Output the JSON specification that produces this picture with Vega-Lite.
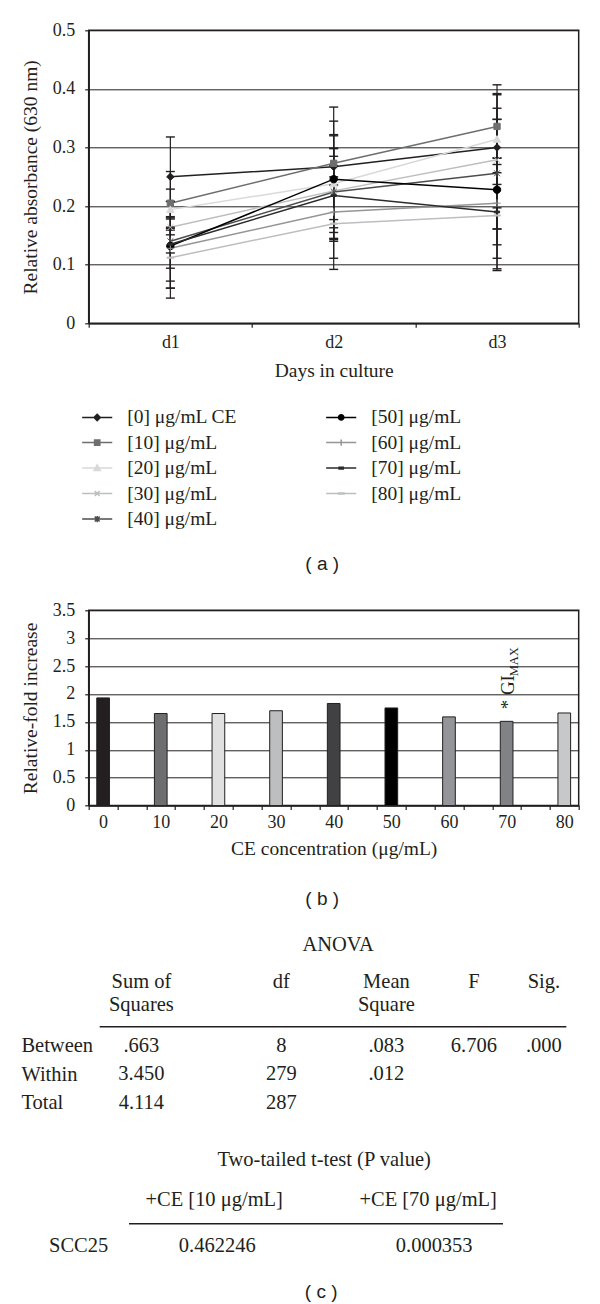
{
  "$schema": "https://vega.github.io/schema/vega-lite/v6.json",
  "background": "white",
  "padding": {"left": 18.7, "top": 20.3, "right": 0, "bottom": 0},
  "spacing": 0,
  "bounds": "flush",
  "resolve": {"scale": {"color": "independent", "x": "independent", "y": "independent", "shape": "independent", "fill": "independent", "stroke": "independent"}},
  "config": {
    "font": "Liberation Serif",
    "view": {"stroke": null},
    "axis": {"labelFont": "Liberation Serif", "titleFont": "Liberation Serif", "labelColor": "#231f20", "titleColor": "#231f20", "titleFontWeight": "normal", "domainColor": "#231f20", "tickColor": "#231f20", "gridColor": "#231f20"},
    "text": {"color": "#231f20"}
  },
  "vconcat": [
    {
      "width": 490,
      "height": 293,
      "view": {"stroke": "#231f20", "strokeWidth": 1.5},
      "data": {"values": [
        {"day": "d1", "series": "[0] μg/mL CE", "value": 0.250, "lo": 0.182, "hi": 0.318},
        {"day": "d2", "series": "[0] μg/mL CE", "value": 0.267, "lo": 0.236, "hi": 0.298},
        {"day": "d3", "series": "[0] μg/mL CE", "value": 0.300, "lo": 0.197, "hi": 0.407},
        {"day": "d1", "series": "[10] μg/mL", "value": 0.205, "lo": 0.151, "hi": 0.259},
        {"day": "d2", "series": "[10] μg/mL", "value": 0.273, "lo": 0.177, "hi": 0.369},
        {"day": "d3", "series": "[10] μg/mL", "value": 0.336, "lo": 0.282, "hi": 0.392},
        {"day": "d1", "series": "[20] μg/mL", "value": 0.194, "lo": 0.159, "hi": 0.229},
        {"day": "d2", "series": "[20] μg/mL", "value": 0.238, "lo": 0.155, "hi": 0.322},
        {"day": "d3", "series": "[20] μg/mL", "value": 0.314, "lo": 0.237, "hi": 0.390},
        {"day": "d1", "series": "[30] μg/mL", "value": 0.164, "lo": 0.120, "hi": 0.208},
        {"day": "d2", "series": "[30] μg/mL", "value": 0.226, "lo": 0.143, "hi": 0.320},
        {"day": "d3", "series": "[30] μg/mL", "value": 0.279, "lo": 0.161, "hi": 0.367},
        {"day": "d1", "series": "[40] μg/mL", "value": 0.140, "lo": 0.072, "hi": 0.208},
        {"day": "d2", "series": "[40] μg/mL", "value": 0.224, "lo": 0.163, "hi": 0.285},
        {"day": "d3", "series": "[40] μg/mL", "value": 0.256, "lo": 0.161, "hi": 0.348},
        {"day": "d1", "series": "[50] μg/mL", "value": 0.132, "lo": 0.043, "hi": 0.180},
        {"day": "d2", "series": "[50] μg/mL", "value": 0.246, "lo": 0.145, "hi": 0.345},
        {"day": "d3", "series": "[50] μg/mL", "value": 0.228, "lo": 0.090, "hi": 0.348},
        {"day": "d1", "series": "[60] μg/mL", "value": 0.128, "lo": 0.094, "hi": 0.162},
        {"day": "d2", "series": "[60] μg/mL", "value": 0.190, "lo": 0.111, "hi": 0.269},
        {"day": "d3", "series": "[60] μg/mL", "value": 0.205, "lo": 0.134, "hi": 0.271},
        {"day": "d1", "series": "[70] μg/mL", "value": 0.135, "lo": 0.060, "hi": 0.178},
        {"day": "d2", "series": "[70] μg/mL", "value": 0.218, "lo": 0.140, "hi": 0.299},
        {"day": "d3", "series": "[70] μg/mL", "value": 0.190, "lo": 0.093, "hi": 0.282},
        {"day": "d1", "series": "[80] μg/mL", "value": 0.112, "lo": 0.060, "hi": 0.164},
        {"day": "d2", "series": "[80] μg/mL", "value": 0.170, "lo": 0.092, "hi": 0.250},
        {"day": "d3", "series": "[80] μg/mL", "value": 0.184, "lo": 0.111, "hi": 0.257}
      ]},
      "resolve": {"scale": {"shape": "independent", "fill": "independent", "stroke": "independent"}},
      "encoding": {
        "x": {"field": "day", "type": "nominal",
          "scale": {"type": "band", "domain": ["d1", "d2", "d3"], "paddingInner": 0, "paddingOuter": 0},
          "axis": {"title": "Days in culture", "labelAngle": 0, "tickBand": "extent", "tickSize": 4, "tickWidth": 1.2, "domainWidth": 1.5, "labelFontSize": 18, "labelPadding": 6, "titleFontSize": 19.5, "titlePadding": 10}},
        "y": {"field": "value", "type": "quantitative",
          "scale": {"domain": [0, 0.5], "nice": false},
          "axis": {"title": "Relative absorbance (630 nm)", "values": [0, 0.1, 0.2, 0.3, 0.4, 0.5], "labelExpr": "datum.value === 0 ? '0' : format(datum.value, '.1f')", "grid": true, "gridWidth": 1, "tickSize": 4, "tickWidth": 1.2, "domainWidth": 1.5, "labelFontSize": 18, "labelPadding": 10, "titleFontSize": 19.5, "titlePadding": 12}}
      },
      "layer": [
        {
          "mark": {"type": "line", "strokeWidth": 1.5},
          "encoding": {
            "color": {"field": "series", "type": "nominal", "legend": null,
              "scale": {"domain": ["[0] μg/mL CE", "[10] μg/mL", "[20] μg/mL", "[30] μg/mL", "[40] μg/mL", "[50] μg/mL", "[60] μg/mL", "[70] μg/mL", "[80] μg/mL"],
                        "range": ["#231f20", "#6d6e70", "#d9d9d9", "#bcbec0", "#4d4d4f", "#000000", "#939598", "#2b2b2b", "#bcbec0"]}}
          }
        },
        {
          "mark": {"type": "rule", "color": "#231f20", "strokeWidth": 1.2},
          "encoding": {"y": {"field": "lo", "type": "quantitative"}, "y2": {"field": "hi"}}
        },
        {
          "mark": {"type": "tick", "color": "#231f20", "thickness": 1.4, "size": 9, "opacity": 1},
          "encoding": {"y": {"field": "lo", "type": "quantitative"}}
        },
        {
          "mark": {"type": "tick", "color": "#231f20", "thickness": 1.4, "size": 9, "opacity": 1},
          "encoding": {"y": {"field": "hi", "type": "quantitative"}}
        },
        {
          "mark": {"type": "point", "filled": true, "size": 55, "strokeWidth": 1, "opacity": 1},
          "encoding": {
            "shape": {"field": "series", "type": "nominal", "legend": null,
              "scale": {"domain": ["[0] μg/mL CE", "[10] μg/mL", "[20] μg/mL", "[30] μg/mL", "[40] μg/mL", "[50] μg/mL", "[60] μg/mL", "[70] μg/mL", "[80] μg/mL"],
                        "range": ["M0,-1L1,0L0,1L-1,0Z", "M-0.85,-0.85L0.85,-0.85L0.85,0.85L-0.85,0.85Z", "M0,-1L1,0.8L-1,0.8Z", "M-0.8,-0.8L0.8,0.8M-0.8,0.8L0.8,-0.8", "M-0.8,-0.8L0.8,0.8M-0.8,0.8L0.8,-0.8M0,-1L0,1", "M1,0A1,1,0,1,1,-1,0A1,1,0,1,1,1,0Z", "M-1,0L1,0M0,-1L0,1", "M-0.7,-0.25L0.7,-0.25L0.7,0.25L-0.7,0.25Z", "M-0.9,-0.15L0.9,-0.15L0.9,0.15L-0.9,0.15Z"]}},
            "fill": {"field": "series", "type": "nominal", "legend": null,
              "scale": {"domain": ["[0] μg/mL CE", "[10] μg/mL", "[20] μg/mL", "[30] μg/mL", "[40] μg/mL", "[50] μg/mL", "[60] μg/mL", "[70] μg/mL", "[80] μg/mL"],
                        "range": ["#231f20", "#6d6e70", "#d9d9d9", "#bcbec0", "#4d4d4f", "#000000", "#939598", "#2b2b2b", "#bcbec0"]}},
            "stroke": {"field": "series", "type": "nominal", "legend": null,
              "scale": {"domain": ["[0] μg/mL CE", "[10] μg/mL", "[20] μg/mL", "[30] μg/mL", "[40] μg/mL", "[50] μg/mL", "[60] μg/mL", "[70] μg/mL", "[80] μg/mL"],
                        "range": ["#231f20", "#6d6e70", "#d9d9d9", "#bcbec0", "#4d4d4f", "#000000", "#939598", "#2b2b2b", "#bcbec0"]}}
          }
        },
        {
          "mark": {"type": "point", "filled": true, "size": 55, "strokeWidth": 1.5, "opacity": 0},
          "encoding": {
            "shape": {"field": "series", "type": "nominal",
              "scale": {"domain": ["[0] μg/mL CE", "[10] μg/mL", "[20] μg/mL", "[30] μg/mL", "[40] μg/mL", "[50] μg/mL", "[60] μg/mL", "[70] μg/mL", "[80] μg/mL"],
                        "range": ["M-4.3,0L4.3,0M0,-0.9L0.9,0L0,0.9L-0.9,0Z", "M-4.3,0L4.3,0M-0.75,-0.75L0.75,-0.75L0.75,0.75L-0.75,0.75Z", "M-4.3,0L4.3,0M0,-0.9L0.9,0.7L-0.9,0.7Z", "M-4.3,0L4.3,0M-0.7,-0.7L0.7,0.7M-0.7,0.7L0.7,-0.7", "M-4.3,0L4.3,0M-0.7,-0.7L0.7,0.7M-0.7,0.7L0.7,-0.7M0,-0.9L0,0.9", "M-4.3,0L-0.75,0M0.75,0L4.3,0M0.75,0A0.75,0.75,0,1,1,-0.75,0A0.75,0.75,0,1,1,0.75,0Z", "M-4.3,0L4.3,0M0,-0.9L0,0.9", "M-4.3,0L4.3,0M-0.6,-0.25L0.6,-0.25L0.6,0.25L-0.6,0.25Z", "M-4.3,0L4.3,0M-0.8,-0.15L0.8,-0.15L0.8,0.15L-0.8,0.15Z"]},
              "legend": {"title": null, "orient": "none", "legendX": -1.25, "legendY": 377, "columns": 2, "columnPadding": 85, "rowPadding": 4.5, "padding": 0, "symbolSize": 49, "symbolStrokeWidth": 1.5, "symbolOpacity": 1, "labelOffset": 20.25, "labelFont": "Liberation Serif", "labelFontSize": 19.5, "labelColor": "#231f20", "labelLimit": 300}},
            "fill": {"field": "series", "type": "nominal",
              "scale": {"domain": ["[0] μg/mL CE", "[10] μg/mL", "[20] μg/mL", "[30] μg/mL", "[40] μg/mL", "[50] μg/mL", "[60] μg/mL", "[70] μg/mL", "[80] μg/mL"],
                        "range": ["#231f20", "#6d6e70", "#d9d9d9", "#bcbec0", "#4d4d4f", "#000000", "#939598", "#2b2b2b", "#bcbec0"]},
              "legend": {"title": null, "orient": "none", "legendX": -1.25, "legendY": 377, "columns": 2, "columnPadding": 85, "rowPadding": 4.5, "padding": 0, "symbolSize": 49, "symbolStrokeWidth": 1.5, "symbolOpacity": 1, "labelOffset": 20.25, "labelFont": "Liberation Serif", "labelFontSize": 19.5, "labelColor": "#231f20", "labelLimit": 300}},
            "stroke": {"field": "series", "type": "nominal",
              "scale": {"domain": ["[0] μg/mL CE", "[10] μg/mL", "[20] μg/mL", "[30] μg/mL", "[40] μg/mL", "[50] μg/mL", "[60] μg/mL", "[70] μg/mL", "[80] μg/mL"],
                        "range": ["#231f20", "#6d6e70", "#d9d9d9", "#bcbec0", "#4d4d4f", "#000000", "#939598", "#2b2b2b", "#bcbec0"]},
              "legend": {"title": null, "orient": "none", "legendX": -1.25, "legendY": 377, "columns": 2, "columnPadding": 85, "rowPadding": 4.5, "padding": 0, "symbolSize": 49, "symbolStrokeWidth": 1.5, "symbolOpacity": 1, "labelOffset": 20.25, "labelFont": "Liberation Serif", "labelFontSize": 19.5, "labelColor": "#231f20", "labelLimit": 300}}
          }
        },
        {
          "data": {"values": [{"cell": "SCC25"}]},
          "mark": {"type": "text", "align": "left", "baseline": "middle", "dx": -68.5, "font": "Liberation Serif", "fontSize": 19, "color": "#231f20"},
          "encoding": {"x": {"datum": "d1"}, "y": {"datum": 0.45}, "text": {"field": "cell"}}
        }
      ]
    },
    {
      "width": 490, "height": 286.7,
      "data": {"values": [{"t": "( a )"}]},
      "mark": {"type": "text", "font": "Liberation Sans", "fontSize": 19, "color": "#231f20"},
      "encoding": {
        "text": {"field": "t"},
        "x": {"field": "t", "type": "nominal", "scale": {"type": "point", "padding": 0.5, "align": 0.4765}, "axis": null},
        "y": {"field": "t", "type": "nominal", "scale": {"type": "point", "padding": 0.5, "align": 0.8395}, "axis": null}
      }
    },
    {
      "width": 490,
      "height": 195.3,
      "view": {"stroke": "#231f20", "strokeWidth": 1.5},
      "data": {"values": [
        {"conc": 0, "fold": 1.93},
        {"conc": 10, "fold": 1.65},
        {"conc": 20, "fold": 1.65},
        {"conc": 30, "fold": 1.70},
        {"conc": 40, "fold": 1.83},
        {"conc": 50, "fold": 1.75},
        {"conc": 60, "fold": 1.59},
        {"conc": 70, "fold": 1.51, "note": "* GI", "sub": "MAX"},
        {"conc": 80, "fold": 1.66}
      ]},
      "encoding": {
        "x": {"field": "conc", "type": "ordinal",
          "scale": {"type": "band", "domain": [0, 5, 10, 15, 20, 25, 30, 35, 40, 45, 50, 55, 60, 65, 70, 75, 80], "paddingInner": 0, "paddingOuter": 0},
          "axis": {"title": "CE concentration (μg/mL)", "labelAngle": 0, "tickBand": "extent", "tickSize": 4, "tickWidth": 1.2, "domainWidth": 1.5, "labelExpr": "datum.value % 10 === 0 ? datum.label : ''", "labelFontSize": 18, "labelPadding": 4, "titleFontSize": 19.5, "titlePadding": 8}},
        "y": {"field": "fold", "type": "quantitative",
          "scale": {"domain": [0, 3.5], "nice": false},
          "axis": {"title": "Relative-fold increase", "values": [0, 0.5, 1, 1.5, 2, 2.5, 3, 3.5], "format": "~g", "grid": true, "gridWidth": 1, "tickSize": 4, "tickWidth": 1.2, "domainWidth": 1.5, "labelFontSize": 18, "labelPadding": 10, "titleFontSize": 19.5, "titlePadding": 12}}
      },
      "layer": [
        {
          "mark": {"type": "bar", "width": {"band": 0.44}, "stroke": "#231f20", "strokeWidth": 1},
          "encoding": {"color": {"field": "conc", "type": "ordinal", "legend": null,
            "scale": {"domain": [0, 10, 20, 30, 40, 50, 60, 70, 80], "range": ["#231f20", "#6d6e70", "#e0e0e0", "#bcbec0", "#414042", "#000000", "#939598", "#808285", "#c7c8ca"]}}}
        },
        {
          "transform": [{"filter": "datum.note"}],
          "mark": {"type": "text", "angle": 270, "align": "left", "baseline": "alphabetic", "dx": 12, "dy": 7, "font": "Liberation Serif", "fontSize": 19, "color": "#231f20"},
          "encoding": {"text": {"field": "note"}}
        },
        {
          "transform": [{"filter": "datum.sub"}],
          "mark": {"type": "text", "angle": 270, "align": "left", "baseline": "alphabetic", "dx": 45, "dy": 11, "font": "Liberation Serif", "fontSize": 12.5, "color": "#231f20"},
          "encoding": {"text": {"field": "sub"}}
        }
      ]
    },
    {
      "width": 490, "height": 115.7,
      "data": {"values": [{"t": "( b )"}]},
      "mark": {"type": "text", "font": "Liberation Sans", "fontSize": 19, "color": "#231f20"},
      "encoding": {
        "text": {"field": "t"},
        "x": {"field": "t", "type": "nominal", "scale": {"type": "point", "padding": 0.5, "align": 0.4765}, "axis": null},
        "y": {"field": "t", "type": "nominal", "scale": {"type": "point", "padding": 0.5, "align": 0.7986}, "axis": null}
      }
    },
    {
      "width": 490, "height": 43,
      "data": {"values": [{"t": "ANOVA"}]},
      "mark": {"type": "text", "font": "Liberation Serif", "fontSize": 20.5, "color": "#231f20"},
      "encoding": {
        "text": {"field": "t"},
        "x": {"field": "t", "type": "nominal", "scale": {"type": "point", "padding": 0.5, "align": 0.509}, "axis": null},
        "y": {"field": "t", "type": "nominal", "scale": {"type": "point", "padding": 0.5, "align": 0.5349}, "axis": null}
      }
    },
    {
      "width": 490, "height": 60.3,
      "data": {"values": [
        {"row": "h1", "col": "ss", "text": "Sum of"},
        {"row": "h2", "col": "ss", "text": "Squares"},
        {"row": "h1", "col": "df", "text": "df"},
        {"row": "h1", "col": "ms", "text": "Mean"},
        {"row": "h2", "col": "ms", "text": "Square"},
        {"row": "h1", "col": "F", "text": "F"},
        {"row": "h1", "col": "sig", "text": "Sig."}
      ]},
      "mark": {"type": "text", "font": "Liberation Serif", "fontSize": 20.5, "color": "#231f20"},
      "encoding": {
        "text": {"field": "text"},
        "x": {"field": "col", "type": "nominal", "axis": null,
          "scale": {"type": "point", "domain": ["a1", "a2", "ss", "s1", "s2", "s3", "s4", "s5", "s6", "s7", "df", "s9", "s10", "s11", "s12", "s13", "ms", "s15", "s16", "s17", "s18", "F", "s20", "s21", "s22", "sig", "z1"], "range": [10.5, 477.2], "padding": 0.333, "align": 0.615}},
        "y": {"field": "row", "type": "nominal", "axis": null,
          "scale": {"type": "point", "domain": ["h1", "h2"], "padding": 0.8109, "align": 0.4558}}
      }
    },
    {
      "width": 490, "height": 96.7,
      "data": {"values": [
        {"row": "Between", "col": "ss", "text": ".663"},
        {"row": "Between", "col": "df", "text": "8"},
        {"row": "Between", "col": "ms", "text": ".083"},
        {"row": "Between", "col": "F", "text": "6.706"},
        {"row": "Between", "col": "sig", "text": ".000"},
        {"row": "Within", "col": "ss", "text": "3.450"},
        {"row": "Within", "col": "df", "text": "279"},
        {"row": "Within", "col": "ms", "text": ".012"},
        {"row": "Total", "col": "ss", "text": "4.114"},
        {"row": "Total", "col": "df", "text": "287"}
      ]},
      "mark": {"type": "text", "font": "Liberation Serif", "fontSize": 20.5, "color": "#231f20"},
      "encoding": {
        "text": {"field": "text"},
        "x": {"field": "col", "type": "nominal",
          "scale": {"type": "point", "domain": ["a1", "a2", "ss", "s1", "s2", "s3", "s4", "s5", "s6", "s7", "df", "s9", "s10", "s11", "s12", "s13", "ms", "s15", "s16", "s17", "s18", "F", "s20", "s21", "s22", "sig", "z1"], "range": [10.5, 477.2], "padding": 0.333, "align": 0.615},
          "axis": {"orient": "top", "title": null, "labels": false, "ticks": false, "grid": false, "domain": true, "domainWidth": 1.6, "domainColor": "#231f20"}},
        "y": {"field": "row", "type": "nominal",
          "scale": {"type": "point", "domain": ["Between", "Within", "Total"], "padding": 0.6877, "align": 0.4924},
          "axis": {"orient": "left", "title": null, "domain": false, "ticks": false, "tickSize": 0, "grid": false, "labelAlign": "left", "labelBaseline": "middle", "labelPadding": 67.8, "labelFontSize": 20.5, "labelColor": "#231f20"}}
      }
    },
    {
      "width": 490, "height": 60,
      "data": {"values": [{"t": "Two-tailed t-test (P value)"}]},
      "mark": {"type": "text", "font": "Liberation Serif", "fontSize": 20.5, "color": "#231f20"},
      "encoding": {
        "text": {"field": "t"},
        "x": {"field": "t", "type": "nominal", "scale": {"type": "point", "padding": 0.5, "align": 0.4806}, "axis": null},
        "y": {"field": "t", "type": "nominal", "scale": {"type": "point", "padding": 0.5, "align": 0.6167}, "axis": null}
      }
    },
    {
      "width": 490, "height": 39.3,
      "data": {"values": [
        {"row": "head", "col": "c10", "text": "+CE [10 μg/mL]"},
        {"row": "head", "col": "c70", "text": "+CE [70 μg/mL]"}
      ]},
      "mark": {"type": "text", "font": "Liberation Serif", "fontSize": 20.5, "color": "#231f20"},
      "encoding": {
        "text": {"field": "text"},
        "x": {"field": "col", "type": "nominal", "axis": null, "scale": {"type": "point", "domain": ["c10", "c70"], "padding": 0.6449, "align": 0.4547}},
        "y": {"field": "row", "type": "nominal", "axis": null, "scale": {"type": "point", "padding": 0.5, "align": 0.4326}}
      }
    },
    {
      "width": 490, "height": 45.7,
      "data": {"values": [
        {"row": "SCC25", "col": "c10", "text": "0.462246"},
        {"row": "SCC25", "col": "c70", "text": "0.000353"}
      ]},
      "mark": {"type": "text", "font": "Liberation Serif", "fontSize": 20.5, "color": "#231f20"},
      "encoding": {
        "text": {"field": "text"},
        "x": {"field": "col", "type": "nominal",
          "scale": {"type": "point", "domain": ["c10", "c70"], "range": [39.8, 413.8], "padding": 0.3618, "align": 0.565},
          "axis": {"orient": "top", "title": null, "labels": false, "ticks": false, "grid": false, "domain": true, "domainWidth": 1.6, "domainColor": "#231f20"}},
        "y": {"field": "row", "type": "nominal",
          "scale": {"type": "point", "padding": 0.5, "align": 0.49},
          "axis": {"orient": "left", "title": null, "domain": false, "ticks": false, "tickSize": 0, "grid": false, "labelAlign": "left", "labelBaseline": "middle", "labelPadding": 40.2, "labelFontSize": 20.5, "labelColor": "#231f20"}}
      }
    },
    {
      "width": 490, "height": 39,
      "data": {"values": [{"t": "( c )"}]},
      "mark": {"type": "text", "font": "Liberation Sans", "fontSize": 19, "color": "#231f20"},
      "encoding": {
        "text": {"field": "t"},
        "x": {"field": "t", "type": "nominal", "scale": {"type": "point", "padding": 0.5, "align": 0.4745}, "axis": null},
        "y": {"field": "t", "type": "nominal", "scale": {"type": "point", "padding": 0.5, "align": 0.5897}, "axis": null}
      }
    }
  ]
}
